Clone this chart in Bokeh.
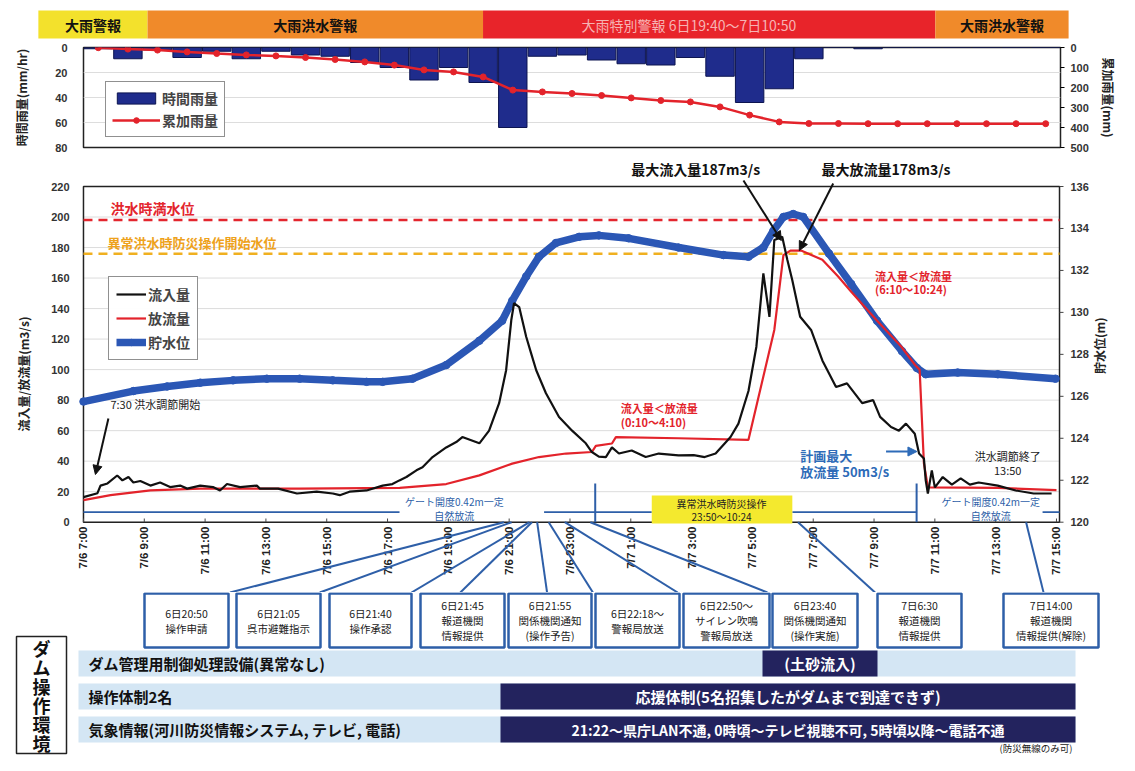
import math
from bokeh.plotting import figure
from bokeh.models import Range1d, LinearAxis, FixedTicker, Legend, LegendItem, Arrow, NormalHead
from bokeh.layouts import column
from bokeh.embed import file_html
from bokeh.resources import INLINE
from bokeh.core.properties import value

# ---------------- data ----------------
warning_names = ["大雨警報", "大雨洪水警報", "大雨特別警報  6日19:40～7日10:50", "大雨洪水警報"]
warning_start_h = [-1.48, 2.10, 13.10, 27.93]
warning_end_h = [2.10, 13.10, 27.93, 32.30]

rain_slots = list(range(33))  # hourly slots 7/6 7:00 ... 7/7 15:00
rain_hourly_mm = [1, 9, 2, 8, 3, 9, 3, 6, 7, 12, 16, 26, 16, 28, 64, 7, 6, 10, 13, 14, 8, 23, 44, 33, 9,
                  0, 1, 0, 0, 0, 0, 0, 0]
rain_cumulative_mm = [1, 8, 13, 22, 30, 37, 42, 50, 60, 72, 88, 112, 122, 147, 213, 222, 230, 240, 252, 265,
                      272, 297, 338, 372, 380, 380, 381, 381, 381, 381, 381, 381, 381]

time_ticks_h = list(range(0, 33, 2))
time_tick_labels = ["7/6 7:00", "7/6 9:00", "7/6 11:00", "7/6 13:00", "7/6 15:00", "7/6 17:00",
                    "7/6 19:00", "7/6 21:00", "7/6 23:00", "7/7 1:00", "7/7 3:00", "7/7 5:00",
                    "7/7 7:00", "7/7 9:00", "7/7 11:00", "7/7 13:00", "7/7 15:00"]
flow_ticks = list(range(0, 221, 20))
level_ticks = list(range(120, 137, 2))

inflow_h = [0.0, 0.46, 0.56, 0.79, 1.11, 1.28, 1.48, 1.64, 1.87, 2.2, 2.52, 2.85, 3.18, 3.41, 3.84, 4.26,
            4.49, 4.72, 5.15, 5.7, 5.8, 6.4, 7.02, 7.67, 8.2, 8.43, 8.75, 9.31, 9.84, 10.16, 10.39, 10.62,
            10.95, 11.15, 11.48, 11.93, 12.26, 12.46, 13.02, 13.34, 13.67, 13.9, 14.07, 14.16, 14.33, 14.56,
            14.72, 14.89, 15.21, 15.64, 16.07, 16.52, 16.72, 16.95, 17.18, 17.38, 17.61, 18.03, 18.49, 18.92,
            19.57, 20.07, 20.43, 20.79, 21.28, 21.54, 21.87, 22.13, 22.36, 22.56, 22.72, 22.98, 23.15, 23.31,
            23.57, 23.93, 24.3, 24.75, 25.11, 25.61, 25.97, 26.2, 26.56, 26.82, 27.05, 27.34, 27.48, 27.64,
            27.7, 27.77, 27.9, 28.0, 28.26, 28.56, 28.85, 29.15, 29.44, 30.07, 30.66, 31.25, 31.84]
inflow_m3s = [16.4, 19, 24, 25.4, 30.6, 27.4, 29.6, 26, 27, 24, 26, 23, 24, 22, 24, 23, 20.8, 25, 23, 24, 22,
              22, 18.8, 20, 18.8, 17.7, 20, 20.8, 24, 25, 27.4, 29.6, 34, 36, 42.7, 49, 52.5, 55.8, 51.7, 60,
              78, 99.6, 132.5, 143.5, 141, 121.5, 110.8, 99.6, 84.5, 69, 60, 51.7, 46, 43, 42.7, 49, 45, 47,
              42.7, 45, 43.8, 44, 42.7, 45, 55.8, 64.6, 86, 115, 163, 134.6, 185, 187, 171.8, 158.7, 134.6,
              126, 106, 88.6, 91, 78, 80, 69, 62.4, 60, 64.6, 58, 45, 41.8, 27.4, 18.8, 34, 22.8, 29.6, 24.6,
              28.7, 24.6, 26, 24, 20.8, 18.8, 18.8]

outflow_h = [0.0, 0.89, 2.2, 3.84, 7.1, 10.4, 11.93, 13.02, 14.1, 14.98, 15.87, 16.72, 16.85, 17.38, 17.51,
             19.57, 21.87, 22.72, 23.02, 23.25, 23.6, 24.3, 24.82, 25.25, 26.1, 26.9, 27.35, 27.5, 27.64,
             27.77, 30.07, 32.0]
outflow_m3s = [14.5, 17.7, 20.8, 22, 22, 22.5, 25, 30.7, 38.4, 42.7, 45, 46, 50, 51.6, 55.8, 55, 54, 126,
               175, 178, 178, 172, 161, 151, 132, 115, 103, 100, 38.6, 22.8, 22.5, 21]

level_h = [0, 1.64, 2.75, 3.84, 4.92, 6.03, 7.11, 8.2, 9.31, 9.84, 10.82, 11.93, 13.02, 13.77, 14.1, 14.56,
           14.98, 15.54, 16.3, 16.95, 17.93, 19.57, 21.05, 21.87, 22.36, 22.69, 23.02, 23.34, 23.67, 24.52,
           25.25, 26.1, 26.92, 27.41, 27.7, 28.75, 30.07, 31.97]
level_m = [125.75, 126.25, 126.47, 126.65, 126.76, 126.84, 126.84, 126.76, 126.69, 126.69, 126.84, 127.49,
           128.65, 129.60, 130.55, 131.71, 132.65, 133.31, 133.60, 133.67, 133.53, 133.09, 132.73, 132.65,
           133.09, 133.89, 134.55, 134.69, 134.55, 132.80, 131.35, 129.60, 128.15, 127.35, 127.05, 127.13,
           127.05, 126.84]

flood_full_level_m = 134.4
abnormal_op_level_m = 132.8

event_h = [13.83, 14.08, 14.67, 14.75, 14.92, 15.30, 15.83, 16.67, 23.50, 31.00]
event_texts = [["6日20:50", "操作申請"], ["6日21:05", "呉市避難指示"], ["6日21:40", "操作承認"],
               ["6日21:45", "報道機関", "情報提供"], ["6日21:55", "関係機関通知", "(操作予告)"],
               ["6日22:18～", "警報局放送"], ["6日22:50～", "サイレン吹鳴", "警報局放送"],
               ["6日23:40", "関係機関通知", "(操作実施)"], ["7日6:30", "報道機関", "情報提供"],
               ["7日14:00", "報道機関", "情報提供(解除)"]]

env_rows = ["ダム管理用制御処理設備(異常なし)", "操作体制2名", "気象情報(河川防災情報システム, テレビ, 電話)"]
env_notes = ["(土砂流入)", "応援体制(5名招集したがダムまで到達できず)",
             "21:22～県庁LAN不通, 0時頃～テレビ視聴不可, 5時頃以降～電話不通"]

# ---------------- layout helpers (picture pixel -> data) ----------------
W = 1119
JPS = "Noto Sans CJK JP"
NUMS = "Liberation Sans"
JP = value(JPS)
NUM = value(NUMS)
FX0, FX1 = 83.0, 1062.0
T0, T1 = 0.0, 32.1
LV0, LV_PX = 521.7, 335.7 / 220.0


def mt(px):
    return T0 + (px - FX0) * (T1 - T0) / (FX1 - FX0)


def mv(py):
    return (LV0 - py) / LV_PX


def lvl_to_v(m):
    return (m - 120.0) * 13.75


def style_axis(ax, label, standoff, lab_standoff, tick_out=0, flip=False):
    ax.axis_label = label
    ax.axis_label_text_font = JPS
    ax.axis_label_text_font_size = "12px"
    ax.axis_label_text_font_style = "bold"
    ax.axis_label_text_color = "#222222"
    ax.axis_label_standoff = lab_standoff
    ax.major_label_text_font = NUMS
    ax.major_label_text_font_size = "11px"
    ax.major_label_text_font_style = "bold"
    ax.major_label_text_color = "#333333"
    ax.major_label_standoff = standoff
    ax.axis_line_color = None
    ax.minor_tick_line_color = None
    ax.major_tick_in = 0
    ax.major_tick_out = tick_out
    if tick_out == 0:
        ax.major_tick_line_color = None
    if flip and "axis_label_orientation" in ax.properties():
        try:
            ax.axis_label_orientation = math.pi / 2
        except Exception:
            pass


def base_fig(height, xr, yr, **kw):
    p = figure(width=W, height=height, x_range=xr, y_range=yr, output_backend="svg",
               toolbar_location=None, **kw)
    p.background_fill_color = "white"
    p.border_fill_color = "white"
    p.frame_align = False
    return p


def style_legend(leg, gw, gh, spacing, padding):
    leg.label_text_font = JPS
    leg.label_text_font_size = "14px"
    leg.label_text_font_style = "bold"
    leg.border_line_color = "#222222"
    leg.border_line_width = 1.5
    leg.glyph_width = gw
    leg.glyph_height = gh
    leg.spacing = spacing
    leg.padding = padding
    leg.margin = 0
    leg.label_standoff = 2

# ---------------- warning bar ----------------
fW = base_fig(40, Range1d(mt(0), mt(W)), Range1d(40, 0), x_axis_location=None, y_axis_location=None,
              min_border=0, min_border_left=0, min_border_right=0, min_border_top=0, min_border_bottom=0)
fW.outline_line_color = None
fW.grid.visible = False
fW.quad(left=warning_start_h, right=warning_end_h, top=10, bottom=38,
        fill_color=["#f3e12c", "#f08a2a", "#e8242a", "#f08a2a"], line_color=None)
wx = [(s + e) / 2 for s, e in zip(warning_start_h, warning_end_h)]
wx[2] = mt(690)
fW.text(x=wx, y=[24] * 4, text=warning_names, text_font=JP, text_font_size="14px",
        text_font_style=["bold", "bold", "normal", "bold"],
        text_color=["#111111", "#111111", "#f6b3b3", "#111111"],
        text_align="center", text_baseline="middle")

# ---------------- rainfall chart ----------------
fR = base_fig(115, Range1d(0, 33), Range1d(80, 0), x_axis_location=None,
              min_border_left=83, min_border_right=W - 1062, min_border_top=7, min_border_bottom=8)
fR.outline_line_color = "#222222"
fR.outline_line_width = 1.5
fR.yaxis.ticker = FixedTicker(ticks=[0, 20, 40, 60, 80])
style_axis(fR.yaxis[0], "時間雨量(mm/hr)", 16, 22)
fR.extra_y_ranges = {"cum": Range1d(500, 0)}
axc = LinearAxis(y_range_name="cum", ticker=FixedTicker(ticks=[0, 100, 200, 300, 400, 500]))
style_axis(axc, "累加雨量(mm)", 6, 8, tick_out=4)
fR.add_layout(axc, "right")
fR.xgrid.visible = False
fR.ygrid.grid_line_color = "#dddddd"
bars = fR.vbar(x=[s + 0.5 for s in rain_slots], width=0.96, top=rain_hourly_mm, bottom=0,
               fill_color="#1f2c8c", line_color="#0c1450", line_width=1)
cl = fR.line(x=[s + 0.5 for s in rain_slots], y=rain_cumulative_mm, y_range_name="cum",
             line_color="#e3232b", line_width=2.5)
cs = fR.scatter(x=[s + 0.5 for s in rain_slots], y=rain_cumulative_mm, y_range_name="cum",
                marker="circle", size=6, fill_color="#e3232b", line_color="#e3232b")
legR = Legend(items=[LegendItem(label="時間雨量", renderers=[bars]),
                     LegendItem(label="累加雨量", renderers=[cl, cs])], location=(22, 10))
style_legend(legR, 48, 14, 2, 6)
fR.add_layout(legR)

# ---------------- main chart ----------------
ML, MR = 76, 1068
fM = base_fig(437, Range1d(mt(ML), mt(MR)), Range1d(mv(592), mv(155)), x_axis_location=None,
              min_border_left=ML, min_border_right=W - MR, min_border_top=0, min_border_bottom=0)
fM.outline_line_color = None
fM.yaxis.ticker = FixedTicker(ticks=flow_ticks)
style_axis(fM.yaxis[0], "流入量/放流量(m3/s)", 7, 16)
fM.extra_y_ranges = {"lvl": Range1d(120 + mv(592) / 13.75, 120 + mv(155) / 13.75)}
axl = LinearAxis(y_range_name="lvl", ticker=FixedTicker(ticks=level_ticks))
style_axis(axl, "貯水位(m)", 5, 8, tick_out=0, flip=True)
fM.add_layout(axl, "right")
fM.grid.visible = False

# horizontal grid, frame box, right-axis tick marks
fM.segment(x0=[T0] * len(flow_ticks), x1=[T1] * len(flow_ticks), y0=flow_ticks, y1=flow_ticks,
           line_color="#dcdcdc", line_width=1)
fM.quad(left=[T0], right=[T1], bottom=[0], top=[220], fill_color=None, line_color="#222222", line_width=1.5)
fM.segment(x0=[T1] * len(level_ticks), x1=[mt(1066)] * len(level_ticks), y0=level_ticks, y1=level_ticks,
           y_range_name="lvl", line_color="#444444", line_width=1)
# x ticks and rotated labels
fM.segment(x0=time_ticks_h, y0=[0] * len(time_ticks_h), x1=time_ticks_h, y1=[mv(518)] * len(time_ticks_h),
           line_color="#444444", line_width=1)
fM.text(x=time_ticks_h, y=[mv(526)] * len(time_ticks_h), text=time_tick_labels, angle=math.pi / 2,
        text_font=NUM, text_font_size="11.5px", text_font_style="bold", text_color="#222222",
        text_align="right", text_baseline="middle")

# threshold dashed lines
fM.segment(x0=[T0], x1=[T1], y0=[lvl_to_v(flood_full_level_m)], y1=[lvl_to_v(flood_full_level_m)],
           line_color="#e3262e", line_width=2.5, line_dash="9 6")
fM.segment(x0=[T0], x1=[T1], y0=[lvl_to_v(abnormal_op_level_m)], y1=[lvl_to_v(abnormal_op_level_m)],
           line_color="#f0b020", line_width=2.5, line_dash="9 6")
fM.text(x=[mt(110)], y=[mv(207)], text=["洪水時満水位"], text_font=JP, text_font_size="14px",
        text_font_style="bold", text_color="#e3262e", text_align="left", text_baseline="middle")
fM.text(x=[mt(107)], y=[mv(242)], text=["異常洪水時防災操作開始水位"], text_font=JP, text_font_size="13px",
        text_font_style="bold", text_color="#eea21c", text_align="left", text_baseline="middle")

# series
bl = fM.line(x=level_h, y=level_m, y_range_name="lvl", line_color="#2b57b5", line_width=7.5)
bs = fM.scatter(x=level_h, y=level_m, y_range_name="lvl", marker="circle", size=7.5,
                fill_color="#2b57b5", line_color="#2b57b5")
rl = fM.line(x=outflow_h, y=outflow_m3s, line_color="#e3232b", line_width=2.2)
kl = fM.line(x=inflow_h, y=inflow_m3s, line_color="#111111", line_width=2.2)

legM = Legend(items=[LegendItem(label="流入量", renderers=[kl]), LegendItem(label="放流量", renderers=[rl]),
                     LegendItem(label="貯水位", renderers=[bl, bs])], location=(108 - ML, 232))
style_legend(legM, 30, 16, 4, 7)
fM.add_layout(legM)

# gate / natural release lines
gate_y = mv(511.7)
fM.segment(x0=[T0, mt(545), mt(794), mt(1045)], x1=[mt(400), mt(653), mt(918), T1],
           y0=[gate_y] * 4, y1=[gate_y] * 4, line_color="#2e5fa8", line_width=1.8)
fM.segment(x0=[16.83, 27.40], x1=[16.83, 27.40], y0=[0, 0], y1=[mv(483), mv(483)],
           line_color="#2e5fa8", line_width=2)
fM.quad(left=[mt(653)], right=[mt(794)], bottom=[mv(523)], top=[mv(495)], fill_color="#f4e92e",
        line_color=None)
fM.text(x=[mt(723), mt(723)], y=[mv(503), mv(516)], text=["異常洪水時防災操作", "23:50～10:24"],
        text_font=JP, text_font_size="10px", text_color="#222222", text_align="center",
        text_baseline="middle")
fM.text(x=[mt(455), mt(455), mt(993), mt(993)], y=[mv(501), mv(515), mv(501), mv(515)],
        text=["ゲート開度0.42m一定", "自然放流", "ゲート開度0.42m一定", "自然放流"],
        text_font=JP, text_font_size="10px", text_color="#2e5fa8", text_align="center",
        text_baseline="middle")

# annotations
fM.text(x=[mt(110)], y=[mv(403)], text=["7:30  洪水調節開始"], text_font=JP, text_font_size="11px",
        text_color="#222222", text_align="left", text_baseline="middle")
fM.text(x=[mt(697), mt(888)], y=[mv(168), mv(168)], text=["最大流入量187m3/s", "最大放流量178m3/s"],
        text_font=JP, text_font_size="14px", text_font_style="bold", text_color="#111111",
        text_align="center", text_baseline="middle")
fM.text(x=[mt(622), mt(622), mt(877), mt(877)], y=[mv(407), mv(421), mv(275), mv(288)],
        text=["流入量＜放流量", "(0:10～4:10)", "流入量＜放流量", "(6:10～10:24)"],
        text_font=JP, text_font_size="11px", text_font_style="bold", text_color="#e3232b",
        text_align="left", text_baseline="middle")
fM.text(x=[mt(802), mt(802)], y=[mv(455), mv(471)], text=["計画最大", "放流量 50m3/s"],
        text_font=JP, text_font_size="13px", text_font_style="bold", text_color="#2e6bb8",
        text_align="left", text_baseline="middle")
fM.text(x=[mt(1010), mt(1010)], y=[mv(455), mv(469)], text=["洪水調節終了", "13:50"],
        text_font=JP, text_font_size="11px", text_color="#222222", text_align="center",
        text_baseline="middle")

for (x0, y0, x1, y1, col) in [(108, 418, 95, 474, "#111111"), (745, 180, 783, 240, "#111111"),
                               (835, 183, 801, 250, "#111111"), (888, 451, 919, 451, "#2e6bb8")]:
    fM.add_layout(Arrow(end=NormalHead(size=9, fill_color=col, line_color=col),
                        x_start=mt(x0), y_start=mv(y0), x_end=mt(x1), y_end=mv(y1),
                        line_color=col, line_width=2))

# connectors from events to boxes
box_x0 = [144, 236, 329, 420, 508, 595, 683, 772, 877, 1003]
box_x1 = [228, 320, 411, 504, 591, 679, 769, 857, 961, 1098]
conn_px = [230, 320, 412, 461, 548, 594, 679, 769, 877, 1046]
fM.segment(x0=event_h, y0=[0] * len(event_h), x1=[mt(v) for v in conn_px], y1=[mv(592)] * len(event_h),
           line_color="#2e5fa8", line_width=2)

# ---------------- bottom panel (picture pixel coordinates) ----------------
fB = base_fig(163, Range1d(0, W), Range1d(755, 592), x_axis_location=None, y_axis_location=None,
              min_border=0, min_border_left=0, min_border_right=0, min_border_top=0, min_border_bottom=0)
fB.outline_line_color = None
fB.grid.visible = False
fB.quad(left=box_x0, right=box_x1, top=[593] * 10, bottom=[647] * 10, fill_color="white",
        line_color="#2e5fa8", line_width=2.5)
tx, ty, tt = [], [], []
for x0, x1, lines in zip(box_x0, box_x1, event_texts):
    n = len(lines)
    start = 620 - (n - 1) * 7.5
    for i, s in enumerate(lines):
        tx.append((x0 + x1) / 2)
        ty.append(start + i * 15)
        tt.append(s)
fB.text(x=tx, y=ty, text=tt, text_font=JP, text_font_size="10.5px", text_color="#1a1a1a",
        text_align="center", text_baseline="middle")

# dam operation environment
fB.quad(left=[16], right=[66], top=[636], bottom=[753], fill_color="white", line_color="#222222",
        line_width=1.5)
chars = list("ダム操作環境")
fB.text(x=[41] * 6, y=[647 + 19 * i for i in range(6)], text=chars, text_font=JP, text_font_size="18px",
        text_font_style="bold", text_color="#111111", text_align="center", text_baseline="middle")
row_top = [650, 683, 716]
row_bot = [676, 709, 742]
fB.quad(left=[78] * 3, right=[1075] * 3, top=row_top, bottom=row_bot, fill_color="#d4e6f4", line_color=None)
fB.quad(left=[762, 500, 500], right=[877, 1075, 1075], top=row_top, bottom=row_bot, fill_color="#23235e",
        line_color=None)
fB.text(x=[88] * 3, y=[(a + b) / 2 for a, b in zip(row_top, row_bot)], text=env_rows, text_font=JP,
        text_font_size="15px", text_font_style="bold", text_color="#111111", text_align="left",
        text_baseline="middle")
fB.text(x=[819.5, 787.5, 787.5], y=[(a + b) / 2 for a, b in zip(row_top, row_bot)], text=env_notes,
        text_font=JP, text_font_size=["15px", "15px", "14px"], text_font_style="bold", text_color="white",
        text_align="center", text_baseline="middle")
fB.text(x=[1072], y=[747], text=["(防災無線のみ可)"], text_font=JP, text_font_size="9.5px",
        text_color="#222222", text_align="right", text_baseline="middle")

layout = column(fW, fR, fM, fB, spacing=0)
open("out.html", "w").write(file_html(layout, INLINE))
